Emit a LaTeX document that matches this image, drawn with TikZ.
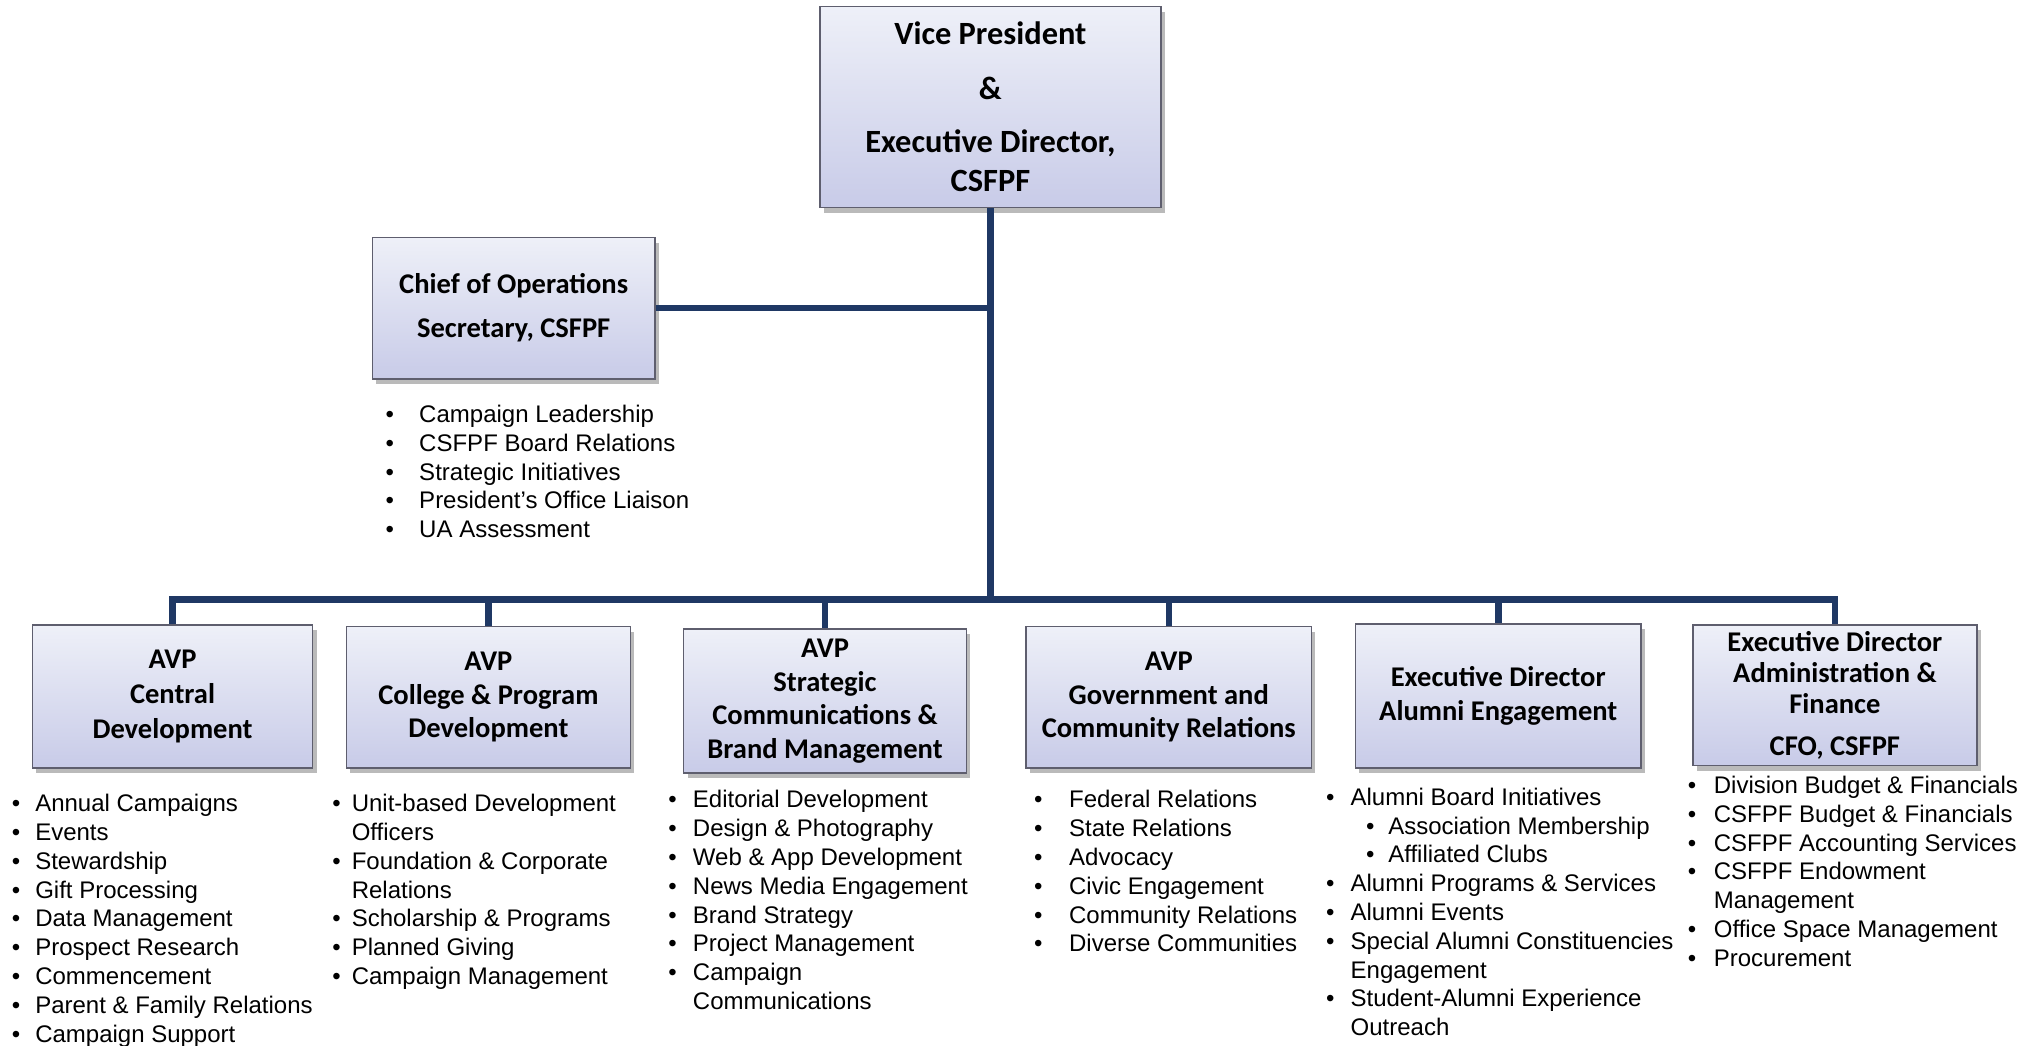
\documentclass[tikz,border=0pt]{standalone}
\usepackage{fontspec}
\setmainfont{Liberation Sans}
\newfontfamily\titlefont{Carlito}
\usetikzlibrary{shadows}
\definecolor{navy}{HTML}{1F3864}
\definecolor{boxtop}{HTML}{EEF0F8}
\definecolor{boxbot}{HTML}{C8CBE8}
\definecolor{boxline}{HTML}{5E5E6E}
\newcommand\bi[2]{\makebox[#1pt][l]{\textbullet}#2}
\newcommand\ci[2]{\hspace*{#1pt}#2}
\newcommand\si[3]{\hspace*{#1pt}\makebox[#2pt][l]{\textbullet}#3}
\tikzset{
  post/.style={draw=boxline, line width=1.2pt, top color=boxtop, bottom color=boxbot,
    drop shadow={shadow xshift=3pt, shadow yshift=-4pt, fill=black!45, opacity=0.6},
    align=center, inner sep=0pt, font=\titlefont\bfseries\fontsize{22}{26}\selectfont},
  link/.style={draw=navy, line width=5pt},
  duties/.style={anchor=north west, inner sep=0pt, align=left, font=\fontsize{18.5}{22.2}\selectfont}
}
\begin{document}
\begin{tikzpicture}[x=1pt, y=-1pt]
\useasboundingbox[fill=white] (0,0) rectangle (1568,806);

% boxes
\node[post, minimum width=263pt, minimum height=155pt, font=\titlefont\bfseries\fontsize{25}{30}\selectfont] (vp) at (763.5,82.5)
  {Vice President\\[12pt] \&\\[11pt] Executive Director,\\ CSFPF};
\node[post, minimum width=218pt, minimum height=109pt] (chief) at (396,237.5)
  {Chief of Operations\\[8pt] Secretary, CSFPF};
\node[post, minimum width=216pt, minimum height=110pt] (b1) at (133,537)
  {AVP\\[1pt] Central\\[1pt] Development};
\node[post, minimum width=219pt, minimum height=109pt] (b2) at (376.5,537.5)
  {AVP\\ College \& Program\\ Development};
\node[post, minimum width=218pt, minimum height=111pt] (b3) at (636,540.5)
  {AVP\\ Strategic\\ Communications \&\\ Brand Management};
\node[post, minimum width=220pt, minimum height=109pt] (b4) at (901,537.5)
  {AVP\\ Government and\\ Community Relations};
\node[post, minimum width=220pt, minimum height=111pt] (b5) at (1155,536.5)
  {Executive Director\\ Alumni Engagement};
\node[post, minimum width=219pt, minimum height=108pt] (b6) at (1414.5,536)
  {Executive Director\\[-2pt] Administration \&\\[-2pt] Finance\\[6pt] CFO, CSFPF};

% connectors
\coordinate (j) at (vp.south |- 0,462);
\draw[link] (vp.south) -- (j);
\draw[link] (chief.east) -- (chief.east -| j);
\draw[link, line cap=rect] (b1.north |- j) -- (b6.north |- j);
\foreach \b in {b1,b2,b3,b4,b5,b6}{
  \draw[link] (\b.north |- j) -- (\b.north);
}

% duty lists
\node[duties] (lchief) at (297,310) {\strut\bi{26}{Campaign Leadership}\\
  \bi{26}{CSFPF Board Relations}\\ \bi{26}{Strategic Initiatives}\\
  \bi{26}{President’s Office Liaison}\\ \bi{26}{UA Assessment}};
\node[duties] (l1) at (9,610) {\strut\bi{18}{Annual Campaigns}\\ \bi{18}{Events}\\
  \bi{18}{Stewardship}\\ \bi{18}{Gift Processing}\\ \bi{18}{Data Management}\\
  \bi{18}{Prospect Research}\\ \bi{18}{Commencement}\\
  \bi{18}{Parent \& Family Relations}\\ \bi{18}{Campaign Support}};
\node[duties] (l2) at (256,610) {\strut\bi{15}{Unit-based Development}\\ \ci{15}{Officers}\\
  \bi{15}{Foundation \& Corporate}\\ \ci{15}{Relations}\\ \bi{15}{Scholarship \& Programs}\\
  \bi{15}{Planned Giving}\\ \bi{15}{Campaign Management}};
\node[duties] (l3) at (515,607) {\strut\bi{19}{Editorial Development}\\ \bi{19}{Design \& Photography}\\
  \bi{19}{Web \& App Development}\\ \bi{19}{News Media Engagement}\\ \bi{19}{Brand Strategy}\\
  \bi{19}{Project Management}\\ \bi{19}{Campaign}\\ \ci{19}{Communications}};
\node[duties] (l4) at (797,607) {\strut\bi{27}{Federal Relations}\\ \bi{27}{State Relations}\\
  \bi{27}{Advocacy}\\ \bi{27}{Civic Engagement}\\ \bi{27}{Community Relations}\\
  \bi{27}{Diverse Communities}};
\node[duties] (l5) at (1022,605) {\strut\bi{19}{Alumni Board Initiatives}\\
  \si{31}{17}{Association Membership}\\ \si{31}{17}{Affiliated Clubs}\\
  \bi{19}{Alumni Programs \& Services}\\ \bi{19}{Alumni Events}\\
  \bi{19}{Special Alumni Constituencies}\\ \ci{19}{Engagement}\\
  \bi{19}{Student-Alumni Experience}\\ \ci{19}{Outreach}};
\node[duties] (l6) at (1301,596) {\strut\bi{20}{Division Budget \& Financials}\\
  \bi{20}{CSFPF Budget \& Financials}\\ \bi{20}{CSFPF Accounting Services}\\
  \bi{20}{CSFPF Endowment}\\ \ci{20}{Management}\\ \bi{20}{Office Space Management}\\
  \bi{20}{Procurement}};
\end{tikzpicture}
\end{document}
